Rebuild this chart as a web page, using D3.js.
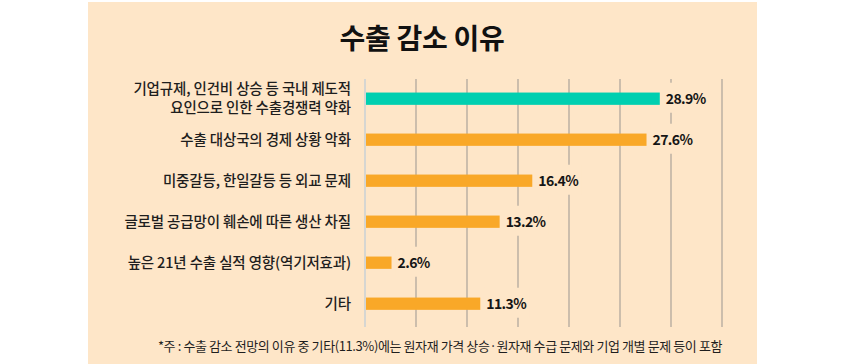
<!DOCTYPE html>
<html>
<head>
<meta charset="utf-8">
<script src="https://cdn.jsdelivr.net/npm/d3@7"></script>
<style>
  html, body { margin: 0; padding: 0; background: #fff; }
  svg { display: block; font-family: "Noto Sans CJK KR", "Noto Sans", sans-serif; }
</style>
</head>
<body>
<svg id="chart" width="844" height="364"></svg>
<script>
// data
var categories = [
  ["기업규제, 인건비 상승 등 국내 제도적", "요인으로 인한 수출경쟁력 약화"],
  ["수출 대상국의 경제 상황 악화"],
  ["미중갈등, 한일갈등 등 외교 문제"],
  ["글로벌 공급망이 훼손에 따른 생산 차질"],
  ["높은 21년 수출 실적 영향(역기저효과)"],
  ["기타"]
];
var values = [28.9, 27.6, 16.4, 13.2, 2.6, 11.3];
var gridTicks = [5, 10, 15, 20, 25, 30, 35];
var title = "수출 감소 이유";
var note = "*주 : 수출 감소 전망의 이유 중 기타(11.3%)에는 원자재 가격 상승·원자재 수급 문제와 기업 개별 문제 등이 포함";

var svg = d3.select("#chart");
var bg = "#fee6c8";

svg.append("rect")
  .attr("x", 88).attr("y", 2)
  .attr("width", 669).attr("height", 362)
  .attr("fill", bg);

svg.append("text")
  .attr("x", 422).attr("y", 49)
  .attr("text-anchor", "middle")
  .attr("font-size", 28)
  .attr("font-weight", 700)
  .attr("letter-spacing", -0.3)
  .attr("fill", "#111")
  .text(title);

var x = d3.scaleLinear().domain([0, 35]).range([365, 722]);
var y = d3.scaleBand()
  .domain(d3.range(values.length))
  .range([78.2, 324.2])
  .paddingInner(0.7)
  .paddingOuter(0.35);

var top_grid = 79, bottom_grid = 327;

// gridlines
svg.append("g").selectAll("line")
  .data(gridTicks)
  .enter().append("line")
  .attr("x1", function(d) { return x(d); })
  .attr("x2", function(d) { return x(d); })
  .attr("y1", top_grid)
  .attr("y2", bottom_grid)
  .attr("stroke", "#9a9590")
  .attr("stroke-width", 1);

// axis line
svg.append("line")
  .attr("x1", x(0)).attr("x2", x(0))
  .attr("y1", top_grid).attr("y2", bottom_grid)
  .attr("stroke", "#c9d0d6")
  .attr("stroke-width", 1.5);

// bars
svg.append("g").selectAll("rect")
  .data(values)
  .enter().append("rect")
  .attr("x", x(0) + 1)
  .attr("y", function(d, i) { return y(i); })
  .attr("width", function(d) { return x(d) - x(0) - 1; })
  .attr("height", y.bandwidth())
  .attr("fill", function(d, i) { return i == 0 ? "#00cfb0" : "#f9a828"; });

// value labels, with a background box that breaks the gridlines
var vals = svg.append("g").selectAll("g")
  .data(values)
  .enter().append("g");

vals.append("rect").attr("fill", bg);

vals.append("text")
  .attr("x", function(d) { return x(d) + 6; })
  .attr("y", function(d, i) { return y(i) + y.bandwidth() / 2; })
  .attr("dy", "0.36em")
  .attr("font-size", 14)
  .attr("font-weight", 700)
  .attr("letter-spacing", -0.6)
  .attr("fill", "#151515")
  .text(function(d) { return d.toFixed(1) + "%"; });

vals.each(function() {
  var g = d3.select(this);
  var b = g.select("text").node().getBBox();
  g.select("rect")
    .attr("x", b.x - 2).attr("y", b.y - 5)
    .attr("width", b.width + 4).attr("height", b.height + 10);
});

// category labels
var labels = svg.append("g").selectAll("text")
  .data(categories)
  .enter().append("text")
  .attr("text-anchor", "end")
  .attr("font-size", 14.5)
  .attr("font-weight", 500)
  .attr("letter-spacing", -0.15)
  .attr("fill", "#1e1e1e");

labels.each(function(lines, i) {
  var t = d3.select(this);
  var cy = y(i) + y.bandwidth() / 2;
  var lh = 19;
  lines.forEach(function(l, k) {
    t.append("tspan")
      .attr("x", 351)
      .attr("y", cy + (k - (lines.length - 1) / 2) * lh)
      .attr("dy", "0.36em")
      .text(l);
  });
});

// footnote
svg.append("text")
  .attr("x", 440).attr("y", 346)
  .attr("dy", "0.36em")
  .attr("text-anchor", "middle")
  .attr("font-size", 13)
  .attr("letter-spacing", -0.4)
  .attr("fill", "#1e1e1e")
  .text(note);
</script>
</body>
</html>
